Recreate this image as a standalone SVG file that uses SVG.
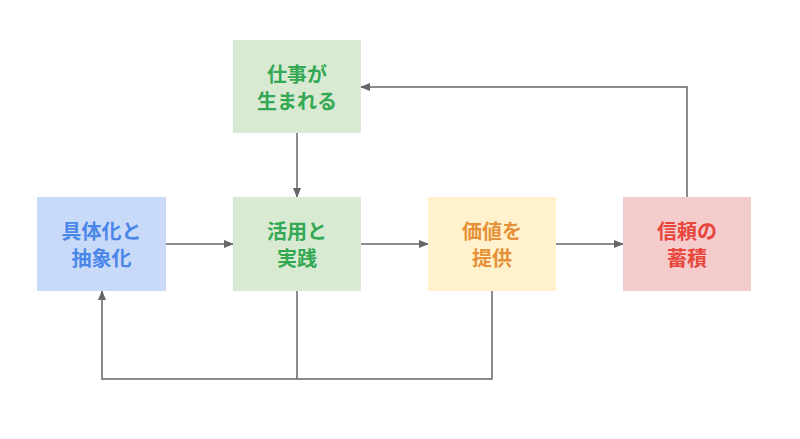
<svg xmlns="http://www.w3.org/2000/svg" width="800" height="439" viewBox="0 0 800 439">
<defs>
<marker id="arr" markerWidth="10" markerHeight="8" refX="9" refY="4" orient="auto" markerUnits="userSpaceOnUse">
<path d="M0,0 L10,4 L0,8 Z" fill="#666666"/>
</marker>
<style>
.box{stroke:none}
.t{font-family:"Noto Sans CJK JP","Noto Sans CJK SC",sans-serif;font-weight:bold;font-size:20px;text-anchor:middle;dominant-baseline:central}
.c{fill:none;stroke:#666666;stroke-width:1.5}
</style>
</defs>
<rect width="800" height="439" fill="#ffffff"/>
<g id="connectors">
<path class="c" d="M166,244 H233" marker-end="url(#arr)"/>
<path class="c" d="M361,244 H428" marker-end="url(#arr)"/>
<path class="c" d="M556,244 H623" marker-end="url(#arr)"/>
<path class="c" d="M687,197 V87 H361" marker-end="url(#arr)"/>
<path class="c" d="M297,133 V197" marker-end="url(#arr)"/>
<path class="c" d="M297,291 V379"/>
<path class="c" d="M492,291 V379 H102 V291" marker-end="url(#arr)"/>
</g>
<g id="node-shigoto">
<rect class="box" x="233" y="40" width="128" height="93" fill="#d9ead3"/>
<text class="t" fill="#34a853" x="297" y="73">仕事が</text>
<text class="t" fill="#34a853" x="297" y="100">生まれる</text>
</g>
<g id="node-gutaika">
<rect class="box" x="37" y="197" width="129" height="94" fill="#c9daf8"/>
<text class="t" fill="#4a86e8" x="101.5" y="230">具体化と</text>
<text class="t" fill="#4a86e8" x="101.5" y="257">抽象化</text>
</g>
<g id="node-katsuyou">
<rect class="box" x="233" y="197" width="128" height="94" fill="#d9ead3"/>
<text class="t" fill="#34a853" x="297" y="230">活用と</text>
<text class="t" fill="#34a853" x="297" y="257">実践</text>
</g>
<g id="node-kachi">
<rect class="box" x="428" y="197" width="128" height="94" fill="#fff2cc"/>
<text class="t" fill="#e69138" x="492" y="230">価値を</text>
<text class="t" fill="#e69138" x="492" y="257">提供</text>
</g>
<g id="node-shinrai">
<rect class="box" x="623" y="197" width="128" height="94" fill="#f4cccc"/>
<text class="t" fill="#e8453c" x="687" y="230">信頼の</text>
<text class="t" fill="#e8453c" x="687" y="257">蓄積</text>
</g>
</svg>
